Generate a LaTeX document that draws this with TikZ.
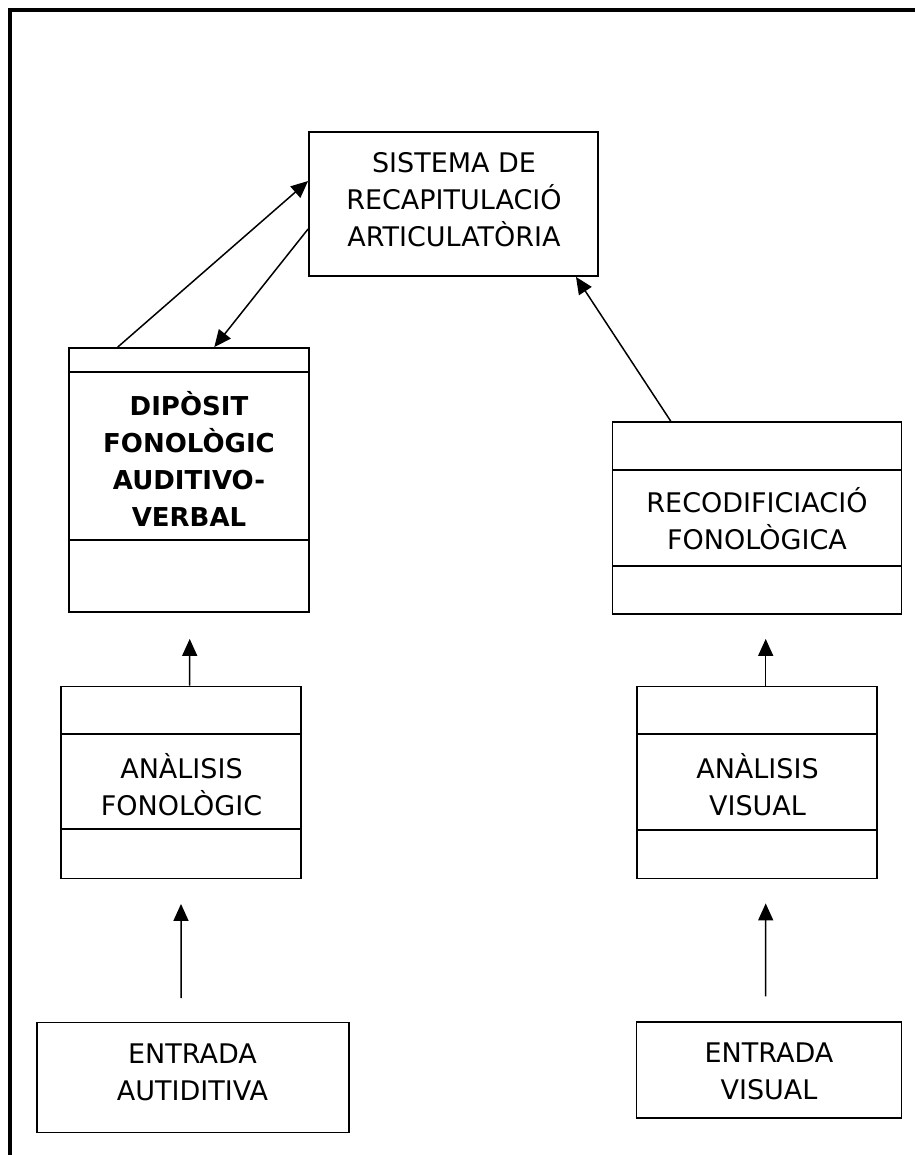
\documentclass[tikz,border=0pt]{standalone}
\usepackage{fontspec}
\setmainfont{DejaVu Sans}
\usetikzlibrary{arrows.meta}
\begin{document}
\begin{tikzpicture}[x=1bp,y=-1bp,
  box/.style={draw, line width=1.8bp, minimum width=#1, inner sep=0pt},
  lbl/.style={align=center, font=\fontsize{27bp}{37bp}\selectfont, inner sep=0pt},
  blbl/.style={lbl, font=\fontsize{26bp}{37bp}\selectfont\bfseries},
  arr/.style={line width=1.5bp, -{Triangle[length=17bp,width=15bp]}},
  divider/.style={line width=1.8bp}]
\useasboundingbox (0,0) rectangle (915,1155);
% frame
\draw[line width=4bp, line join=miter] (10,1157) -- (10,10) -- (917,10);

% boxes
\node[box=289bp, minimum height=144bp] (sis) at (453.5,204) {};
\node[lbl] (sisT) at (454,200) {SISTEMA DE\\RECAPITULACIÓ\\ARTICULATÒRIA};

\node[box=240bp, minimum height=264bp] (dip) at (189,480) {};
\draw[divider] (69,372) -- (309,372);
\draw[divider] (69,540) -- (309,540);
\node[blbl] (dipT) at (189,459) {DIPÒSIT\\FONOLÒGIC\\AUDITIVO-\\VERBAL};

\node[box=289bp, minimum height=192bp] (rec) at (757,518) {};
\draw[divider] (612.5,470) -- (901.5,470);
\draw[divider] (612.5,566) -- (901.5,566);
\node[lbl] (recT) at (757,519) {RECODIFICIACIÓ\\FONOLÒGICA};

\node[box=240bp, minimum height=192bp] (af) at (181,782.5) {};
\draw[divider] (61,734) -- (301,734);
\draw[divider] (61,829) -- (301,829);
\node[lbl] (afT) at (181.5,785) {ANÀLISIS\\FONOLÒGIC};

\node[box=240bp, minimum height=192bp] (av) at (757,782.5) {};
\draw[divider] (637,734) -- (877,734);
\draw[divider] (637,830) -- (877,830);
\node[lbl] (avT) at (757.5,785) {ANÀLISIS\\VISUAL};

\node[box=312bp, minimum height=110bp] (ea) at (193,1077.5) {};
\node[lbl] (eaT) at (192.5,1072.5) {ENTRADA\\AUTIDITIVA};

\node[box=265bp, minimum height=96bp] (ev) at (769,1070.3) {};
\node[lbl] (evT) at (769,1071.5) {ENTRADA\\VISUAL};

% connectors
\draw[arr] ([xshift=-71.3bp]dip.north) -- ([yshift=23bp]sis.west);
\draw[arr] ([yshift=-25bp]sis.west) -- ([xshift=25.3bp]dip.north);
\draw[arr] ([xshift=-86.3bp]rec.north) -- ([xshift=122.5bp]sis.south);
\draw[arr] ([xshift=8.7bp]af.north) -- ([xshift=0.7bp,yshift=-26bp]dip.south);
\draw[arr] ([xshift=8.7bp]av.north) -- ([xshift=8.7bp,yshift=-24bp]rec.south);
\draw[arr] ([xshift=-12bp,yshift=23.5bp]ea.north) -- ([yshift=-24.5bp]af.south);
\draw[arr] ([xshift=-3.3bp,yshift=25bp]ev.north) -- ([xshift=8.7bp,yshift=-24bp]av.south);
\end{tikzpicture}
\end{document}
